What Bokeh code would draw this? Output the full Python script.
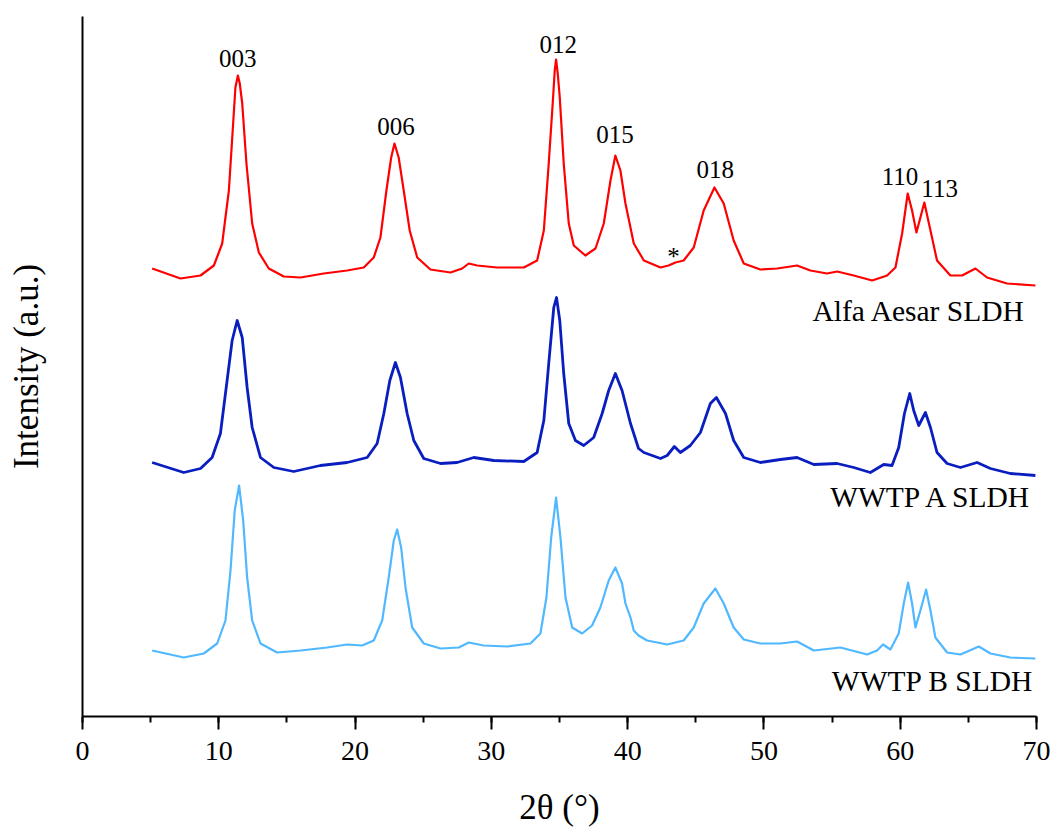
from bokeh.plotting import figure
from bokeh.models import Range1d, SingleIntervalTicker, FixedTicker, ColumnDataSource
from bokeh.core.properties import value
from bokeh.embed import file_html
from bokeh.resources import INLINE

FONT = "Liberation Serif"

# ---- data (2theta in degrees, stacked intensity in a.u.) ----
tt_alfa = [5.11, 7.19, 8.66, 9.64, 10.25, 10.74, 11.10, 11.22, 11.40, 11.54, 11.72, 12.03, 12.45,
           12.94, 13.67, 14.77, 16.0, 17.7, 19.42, 20.64, 21.37, 21.86, 22.30, 22.65, 22.89, 23.20,
           23.57, 24.01, 24.56, 25.53, 27.0, 27.86, 28.34, 28.96, 30.42, 32.38, 33.36, 33.85, 34.21,
           34.53, 34.65, 34.75, 34.87, 35.02, 35.31, 35.68, 36.05, 36.9, 37.64, 38.25, 38.74, 39.10,
           39.47, 39.84, 40.45, 41.19, 42.41, 43.0, 43.51, 44.11, 44.85, 45.58, 46.37, 47.05, 47.78,
           48.52, 49.74, 50.97, 52.43, 53.41, 54.63, 55.37, 56.59, 57.94, 59.04, 59.65, 60.14, 60.55,
           60.87, 61.19, 61.48, 61.77, 62.22, 62.70, 63.68, 64.54, 65.52, 66.37, 67.84, 69.92]
int_alfa = [448, 438, 441, 451, 473, 526, 603, 629, 641, 633, 613, 553, 493,
            464, 448, 440, 439, 443, 446, 449, 459, 479, 526, 559, 573, 559,
            526, 486, 459, 447, 444, 448, 453, 451, 449, 449, 456, 486, 553,
            619, 646, 657, 643, 619, 553, 493, 471, 461, 468, 493, 536, 561,
            546, 513, 473, 456, 449, 451, 454, 456, 469, 506, 529, 513, 476,
            453, 447, 448, 451, 446, 443, 445, 441, 436, 441, 449, 483, 523,
            506, 484, 499, 514, 486, 456, 441, 441, 448, 439, 433, 431]

tt_wwtp_a = [5.11, 7.43, 8.66, 9.51, 10.12, 10.61, 10.98, 11.35, 11.72, 12.08, 12.45, 13.06, 14.04,
             15.5, 17.46, 19.42, 20.89, 21.62, 22.11, 22.55, 22.96, 23.33, 23.82, 24.31, 25.04, 26.27,
             27.49, 28.71, 30.18, 32.38, 33.36, 33.85, 34.21, 34.58, 34.78, 35.02, 35.31, 35.68, 36.17,
             36.78, 37.51, 38.13, 38.61, 39.10, 39.59, 40.21, 40.80, 41.19, 42.41, 42.9, 43.43, 43.87,
             44.6, 45.34, 46.07, 46.51, 47.18, 47.78, 48.52, 49.74, 51.21, 52.43, 53.66, 55.37, 56.59,
             57.81, 58.79, 59.4, 59.89, 60.31, 60.70, 60.99, 61.36, 61.85, 62.22, 62.70, 63.44, 64.42,
             65.64, 66.62, 68.08, 69.92]
int_wwtp_a = [254, 244, 248, 259, 283, 336, 376, 396, 379, 329, 289, 259, 249,
              245, 251, 254, 259, 273, 303, 336, 354, 339, 303, 276, 258, 253,
              254, 259, 256, 255, 264, 296, 353, 409, 419, 396, 343, 293, 276,
              271, 279, 303, 326, 343, 326, 293, 268, 264, 258, 261, 270, 264,
              271, 284, 313, 319, 303, 276, 259, 254, 257, 259, 252, 253, 249,
              244, 252, 251, 269, 303, 323, 306, 291, 304, 289, 264, 253, 249,
              254, 248, 243, 241]

tt_wwtp_b = [5.11, 7.43, 8.90, 9.88, 10.49, 10.86, 11.17, 11.49, 11.79, 12.08, 12.45, 13.06, 14.28,
             16.0, 17.95, 19.42, 20.52, 21.37, 21.99, 22.47, 22.84, 23.09, 23.38, 23.70, 24.19, 25.04,
             26.27, 27.61, 28.34, 29.44, 31.16, 32.87, 33.60, 34.04, 34.39, 34.75, 35.07, 35.44, 35.93,
             36.66, 37.39, 38.00, 38.61, 39.10, 39.59, 39.84, 40.21, 40.45, 40.80, 41.43, 42.9, 44.11,
             44.85, 45.58, 46.44, 47.05, 47.78, 48.52, 49.74, 51.21, 52.43, 53.66, 55.61, 57.57, 58.30,
             58.74, 59.28, 59.89, 60.26, 60.58, 60.87, 61.12, 61.48, 61.90, 62.22, 62.58, 63.44, 64.42,
             65.77, 66.62, 68.08, 69.92]
int_wwtp_b = [66, 59, 63, 73, 96, 146, 206, 231, 196, 139, 96, 73, 64,
              66, 69, 72, 71, 76, 96, 139, 176, 187, 169, 129, 89, 73,
              68, 69, 74, 71, 70, 73, 83, 119, 179, 219, 179, 119, 89,
              83, 91, 109, 136, 149, 133, 113, 99, 86, 81, 76, 72, 76,
              89, 113, 128, 113, 89, 77, 73, 73, 75, 66, 69, 62, 66,
              72, 67, 83, 113, 134, 113, 89, 106, 127, 106, 79, 64, 62,
              70, 63, 59, 58]

peak_labels = ["003", "006", "012", "015", "*", "018", "110", "113"]
peak_label_x = [11.4, 23.0, 34.9, 39.08, 43.36, 46.42, 59.99, 62.89]
peak_label_y = [649, 581, 663, 573, 451, 538, 531, 519]

series_names = ["Alfa Aesar SLDH", "WWTP A SLDH", "WWTP B SLDH"]
series_label_x = [69.19, 69.77, 69.77]
series_label_y = [396, 210, 26]
series_colors = ["#FF0000", "#0A1EC0", "#50B8FF"]

p = figure(width=1052, height=830, output_backend="svg", toolbar_location=None,
           x_range=Range1d(0, 70), y_range=Range1d(0, 700),
           min_border_left=82, min_border_right=16, min_border_top=16, min_border_bottom=114)
p.outline_line_color = None
p.grid.visible = False

p.line(tt_alfa, int_alfa, line_color=series_colors[0], line_width=2.2, line_join="round")
p.line(tt_wwtp_a, int_wwtp_a, line_color=series_colors[1], line_width=2.8, line_join="round")
p.line(tt_wwtp_b, int_wwtp_b, line_color=series_colors[2], line_width=2.2, line_join="round")

src_pk = ColumnDataSource(dict(x=peak_label_x, y=peak_label_y, t=peak_labels))
p.text(x="x", y="y", text="t", source=src_pk, text_font=value(FONT), text_font_size="25px",
       text_align="center", text_baseline="alphabetic", text_color="black", y_offset=-9)

src_sr = ColumnDataSource(dict(x=series_label_x, y=series_label_y, t=series_names))
p.text(x="x", y="y", text="t", source=src_sr, text_font=value(FONT), text_font_size="29.5px",
       text_align="right", text_baseline="alphabetic", text_color="black", y_offset=-10)

xa = p.xaxis[0]
xa.ticker = SingleIntervalTicker(interval=10, num_minor_ticks=2)
xa.axis_line_width = 2
xa.major_tick_line_width = 2
xa.minor_tick_line_width = 2
xa.major_tick_in = 0
xa.major_tick_out = 13
xa.minor_tick_in = 0
xa.minor_tick_out = 6
xa.major_label_text_font = FONT
xa.major_label_text_font_size = "28px"
xa.major_label_text_color = "black"
xa.major_label_standoff = 12
xa.axis_label = "2θ (°)"
xa.axis_label_text_font = FONT
xa.axis_label_text_font_size = "35px"
xa.axis_label_text_font_style = "normal"
xa.axis_label_text_color = "black"
xa.axis_label_standoff = 25

ya = p.yaxis[0]
ya.ticker = FixedTicker(ticks=[])
ya.axis_line_width = 2
ya.major_tick_in = 0
ya.major_tick_out = 0
ya.minor_tick_in = 0
ya.minor_tick_out = 0
ya.major_label_text_font_size = "0px"
ya.axis_label = "Intensity (a.u.)"
ya.axis_label_text_font = FONT
ya.axis_label_text_font_size = "35px"
ya.axis_label_text_font_style = "normal"
ya.axis_label_text_color = "black"
ya.axis_label_standoff = 37

open("out.html", "w").write(file_html(p, INLINE))
